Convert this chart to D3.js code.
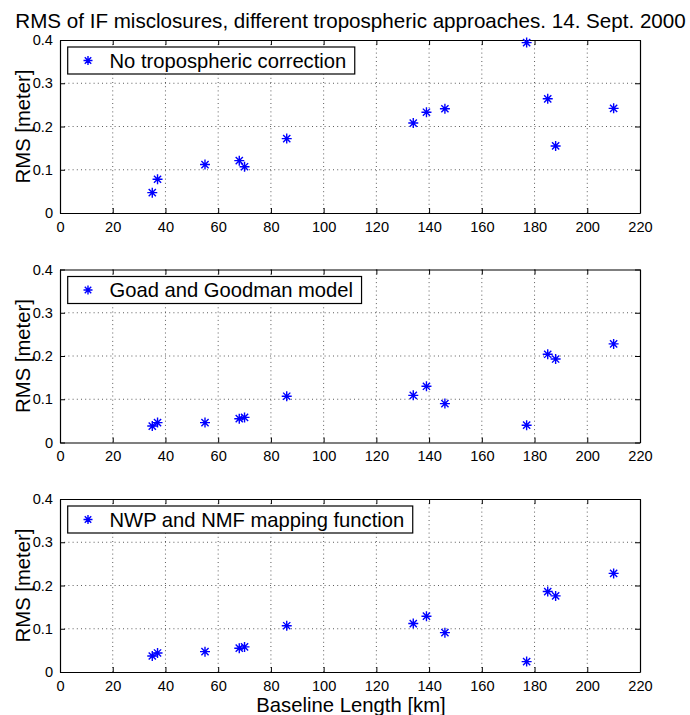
<!DOCTYPE html>
<html><head><meta charset="utf-8">
<script src="https://cdn.jsdelivr.net/npm/d3@7"></script>
<style>body{margin:0;background:#fff;} svg{display:block;font-family:"Liberation Sans",Arial,Helvetica,sans-serif;}</style>
</head><body>
<script>
const titleText = "RMS of IF misclosures, different tropospheric approaches. 14. Sept. 2000";
const xLabel = "Baseline Length [km]";
const yLabel = "RMS [meter]";
const baselines = [35, 37, 55, 68, 70, 86, 134, 139, 146, 177, 185, 188, 210];
const rmsNoCorrection = [0.047, 0.078, 0.112, 0.121, 0.107, 0.172, 0.208, 0.233, 0.241, 0.394, 0.264, 0.155, 0.242];
const rmsGoadGoodman = [0.038, 0.046, 0.046, 0.055, 0.058, 0.107, 0.109, 0.130, 0.090, 0.040, 0.204, 0.193, 0.228];
const rmsNwpNmf = [0.037, 0.044, 0.047, 0.055, 0.058, 0.107, 0.112, 0.129, 0.091, 0.024, 0.186, 0.176, 0.228];
const legendLabels = ["No tropospheric correction", "Goad and Goodman model", "NWP and NMF mapping function"];
const xTicks = [0, 20, 40, 60, 80, 100, 120, 140, 160, 180, 200, 220];
const yTicks = [0, 0.1, 0.2, 0.3, 0.4];

const W = 690, H = 715;
const left = 60, right = 640, ph = 173;
const tops = [40, 269.5, 499];
const series = [rmsNoCorrection, rmsGoadGoodman, rmsNwpNmf];
const blue = "#0000ff";

const svg = d3.select("body").append("svg").attr("width", W).attr("height", H);

svg.append("text").attr("x", 350.5).attr("y", 28).attr("text-anchor", "middle")
  .attr("font-size", 20.6).attr("fill", "#000").text(titleText);

function star(g, cx, cy, r) {
  const d = r * 0.72;
  g.append("path")
    .attr("d", `M${cx - r},${cy}L${cx + r},${cy}M${cx},${cy - r}L${cx},${cy + r}M${cx - d},${cy - d}L${cx + d},${cy + d}M${cx - d},${cy + d}L${cx + d},${cy - d}`)
    .attr("stroke", blue).attr("stroke-width", 1.4).attr("fill", "none");
}

series.forEach((vals, i) => {
  const top = tops[i], bottom = top + ph;
  const x = d3.scaleLinear().domain([0, 220]).range([left, right]);
  const y = d3.scaleLinear().domain([0, 0.4]).range([bottom, top]);
  const g = svg.append("g");

  // grid
  g.selectAll(".gx").data(xTicks.filter(t => t > 0 && t < 220)).enter().append("line")
    .attr("x1", d => x(d)).attr("x2", d => x(d)).attr("y1", top).attr("y2", bottom)
    .attr("stroke", "#333").attr("stroke-width", 0.8).attr("stroke-dasharray", "1,3.2");
  g.selectAll(".gy").data(yTicks.filter(t => t > 0 && t < 0.4)).enter().append("line")
    .attr("y1", d => y(d)).attr("y2", d => y(d)).attr("x1", left).attr("x2", right)
    .attr("stroke", "#333").attr("stroke-width", 0.8).attr("stroke-dasharray", "1,3.2");

  // axes
  const ax = g.append("g").attr("transform", `translate(0,${bottom})`)
    .call(d3.axisBottom(x).tickValues(xTicks).tickSizeInner(-5).tickSizeOuter(0).tickPadding(8.5).tickFormat(d3.format("d")));
  const axT = g.append("g").attr("transform", `translate(0,${top})`)
    .call(d3.axisTop(x).tickValues(xTicks).tickSizeInner(-5).tickSizeOuter(0).tickFormat(""));
  const ay = g.append("g").attr("transform", `translate(${left},0)`)
    .call(d3.axisLeft(y).tickValues(yTicks).tickSizeInner(-5).tickSizeOuter(0).tickPadding(7).tickFormat(d => d === 0 ? "0" : d3.format(".1f")(d)));
  const ayR = g.append("g").attr("transform", `translate(${right},0)`)
    .call(d3.axisRight(y).tickValues(yTicks).tickSizeInner(-5).tickSizeOuter(0).tickFormat(""));
  [ax, axT, ay, ayR].forEach(a => {
    a.selectAll("path").attr("stroke", "#000").attr("stroke-width", 1.2);
    a.selectAll("line").attr("stroke", "#000").attr("stroke-width", 1);
    a.selectAll("text").attr("font-size", 14.6).attr("fill", "#000").attr("font-family", "Liberation Sans, Arial, sans-serif");
  });

  // y label
  g.append("text").attr("transform", `translate(30,${(top + bottom) / 2}) rotate(-90)`)
    .attr("text-anchor", "middle").attr("font-size", 20.3).attr("fill", "#000").text(yLabel);

  // points
  vals.forEach((v, j) => star(g, x(baselines[j]), y(v), 5));

  // legend
  const lg = g.append("g");
  const txt = lg.append("text").attr("x", 109.5).attr("y", top + 27.5)
    .attr("font-size", 20.2).attr("fill", "#000").text(legendLabels[i]);
  const tw = txt.node().getComputedTextLength();
  const ly = top + 7;
  lg.insert("rect", "text").attr("x", 67.7).attr("y", ly).attr("width", 109.5 + tw + 8.5 - 67.7).attr("height", 27)
    .attr("fill", "#fff").attr("stroke", "#000").attr("stroke-width", 1.2);
  star(lg, 88, ly + 13.5, 4.5);
});

svg.append("text").attr("x", 351).attr("y", 711.5).attr("text-anchor", "middle")
  .attr("font-size", 20.3).attr("fill", "#000").text(xLabel);
</script>
</body></html>
